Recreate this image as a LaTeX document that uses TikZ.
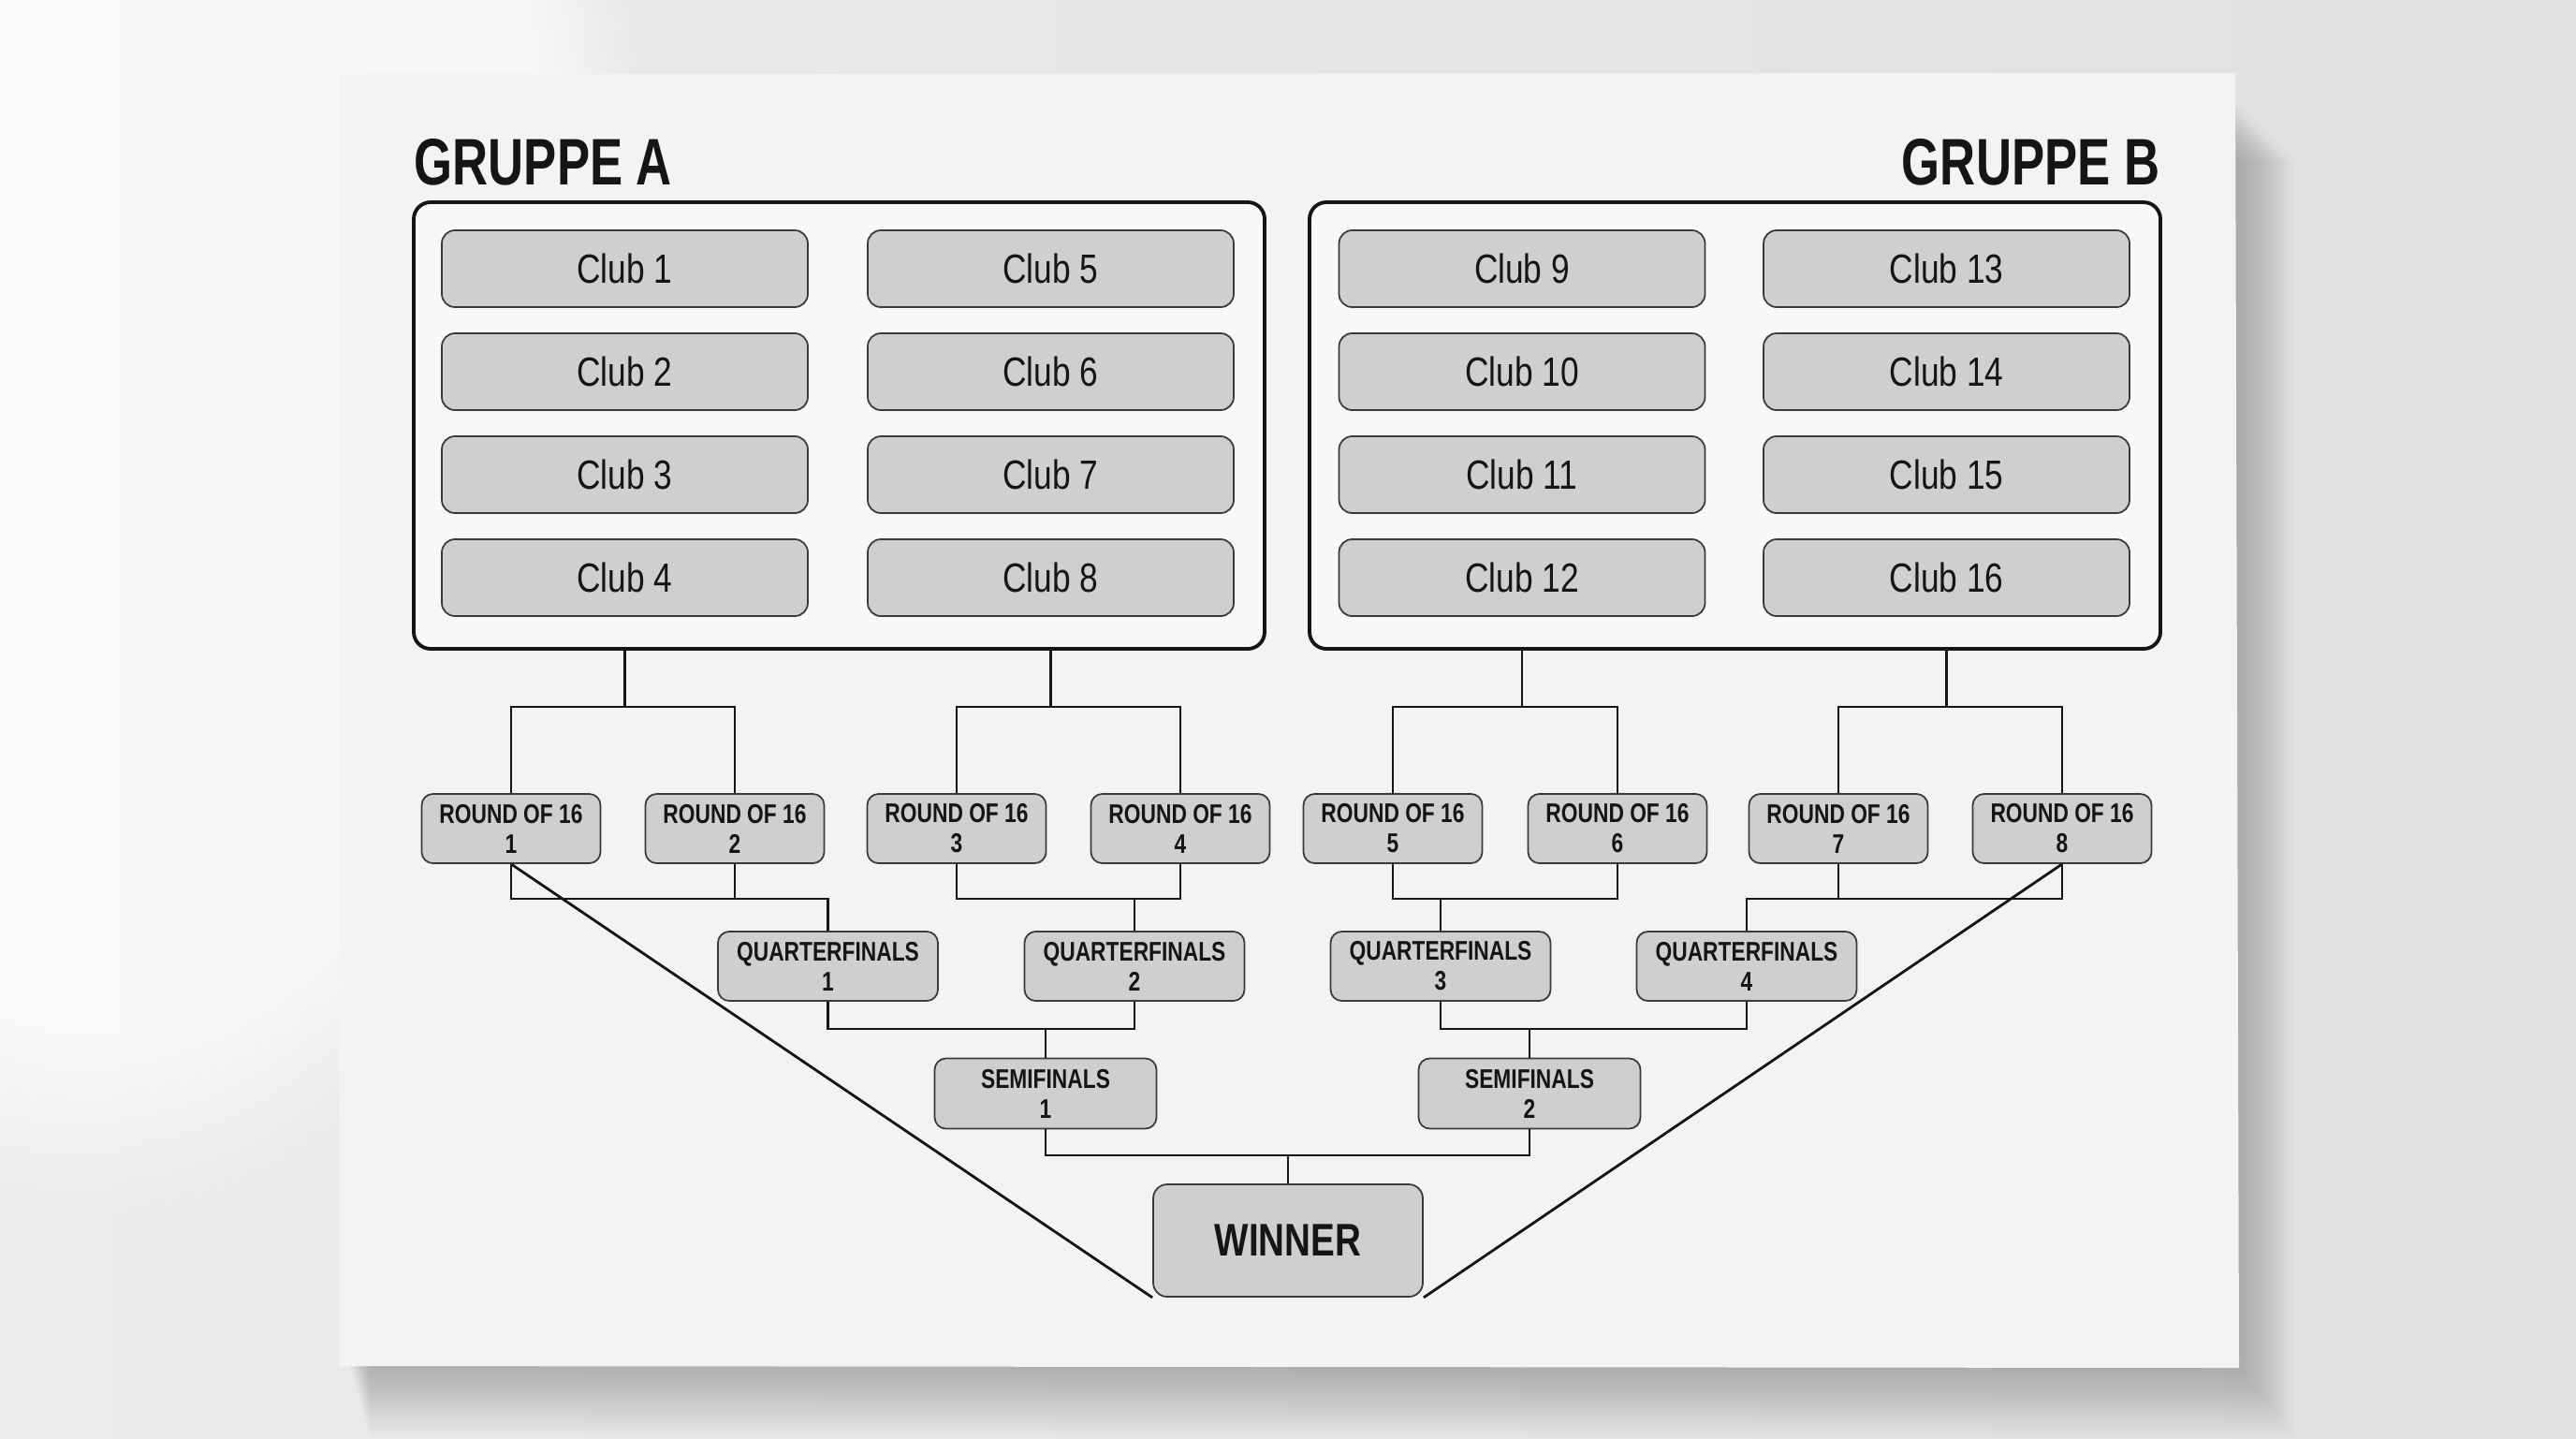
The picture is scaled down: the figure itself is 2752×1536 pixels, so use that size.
\documentclass[tikz,border=0pt]{standalone}
\usepackage{fontspec}
\usetikzlibrary{fadings}
\setmainfont{Liberation Sans}
\newfontfamily\clubfont[FakeStretch=0.81]{Liberation Sans}
\newfontfamily\labfont[FakeStretch=0.79]{Liberation Sans}
\newfontfamily\headfont[FakeStretch=0.75]{Liberation Sans}
\definecolor{bgL}{HTML}{EBEBEB}
\definecolor{bgR}{HTML}{E0E0E0}
\definecolor{paper}{HTML}{F3F3F3}
\definecolor{boxfill}{HTML}{CFCFCF}
\definecolor{boxline}{HTML}{3A3A3A}
\definecolor{ink}{HTML}{151515}
\tikzset{
  conn/.style={draw=ink, line width=0.8pt},
  grp/.style={draw=ink, line width=1.1pt, fill=paper!60!white, rounded corners=1.8mm, minimum width=90.9mm, minimum height=47.7mm, inner sep=0pt},
  club/.style={draw=boxline, line width=0.5pt, fill=boxfill, rounded corners=1.4mm, minimum width=39.1mm, minimum height=8.2mm, inner sep=0pt, text=ink, font={\clubfont\fontsize{12.4}{14}\selectfont}},
  rbox/.style={draw=boxline, line width=0.5pt, fill=boxfill, rounded corners=1.2mm, minimum height=7.4mm, inner sep=0pt, align=center, text=ink, font={\labfont\bfseries\fontsize{8.2}{9.1}\selectfont}},
  r16/.style={rbox, minimum width=19.1mm},
  qf/.style={rbox, minimum width=23.5mm},
  sf/.style={rbox, minimum width=23.7mm, minimum height=7.5mm},
  win/.style={draw=boxline, line width=0.5pt, fill=boxfill, rounded corners=1.5mm, minimum width=28.8mm, minimum height=12.0mm, inner sep=0pt, text=ink, font={\labfont\bfseries\fontsize{13.9}{16}\selectfont}},
  title/.style={inner sep=0pt, text=ink, font={\headfont\bfseries\fontsize{20}{24}\selectfont}}
}
\begin{document}
\begin{tikzpicture}[x=0.1mm, y=-0.1mm]
\useasboundingbox (0,0) rectangle (2752,1536);
% background
\shade[left color=bgL, right color=bgR] (0,0) rectangle (2752,1536);
\fill[white, opacity=0.7, path fading=circle with fuzzy edge 20 percent] (-500,-700) rectangle (700,1300);
% paper shadow (soft)
\foreach \i in {0,...,15} {
  \fill[black, opacity=0.016] (372+\i*1.5, 110+\i*4) rectangle (2390+\i*4, 1458+\i*5);
}
% paper
\fill[paper] (363,79) -- (2388,78) -- (2392,1461) -- (362,1459) -- cycle;

% titles
\node[title, anchor=base west] (tA) at (442,197) {GRUPPE A};
\node[title, anchor=base east] (tB) at (2308,197) {GRUPPE B};

% group boxes
\node[grp] (gA) at (896.5,454.5) {};
\node[grp] (gB) at (1853.5,454.5) {};

% clubs
\node[club] (c1)  at (667.5,287) {Club 1};
\node[club] (c2)  at (667.5,397) {Club 2};
\node[club] (c3)  at (667.5,507) {Club 3};
\node[club] (c4)  at (667.5,617) {Club 4};
\node[club] (c5)  at (1122.5,287) {Club 5};
\node[club] (c6)  at (1122.5,397) {Club 6};
\node[club] (c7)  at (1122.5,507) {Club 7};
\node[club] (c8)  at (1122.5,617) {Club 8};
\node[club] (c9)  at (1626,287) {Club 9};
\node[club] (c10) at (1626,397) {Club 10};
\node[club] (c11) at (1626,507) {Club 11};
\node[club] (c12) at (1626,617) {Club 12};
\node[club] (c13) at (2079.5,287) {Club 13};
\node[club] (c14) at (2079.5,397) {Club 14};
\node[club] (c15) at (2079.5,507) {Club 15};
\node[club] (c16) at (2079.5,617) {Club 16};

% round of 16
\node[r16] (r1) at (546,885)  {ROUND OF 16\\1};
\node[r16] (r2) at (785,885)  {ROUND OF 16\\2};
\node[r16] (r3) at (1022,885) {ROUND OF 16\\3};
\node[r16] (r4) at (1261,885) {ROUND OF 16\\4};
\node[r16] (r5) at (1488,885) {ROUND OF 16\\5};
\node[r16] (r6) at (1728,885) {ROUND OF 16\\6};
\node[r16] (r7) at (1964,885) {ROUND OF 16\\7};
\node[r16] (r8) at (2203,885) {ROUND OF 16\\8};

% quarterfinals
\node[qf] (q1) at (884.5,1032) {QUARTERFINALS\\1};
\node[qf] (q2) at (1212,1032)  {QUARTERFINALS\\2};
\node[qf] (q3) at (1539,1032)  {QUARTERFINALS\\3};
\node[qf] (q4) at (1866,1032)  {QUARTERFINALS\\4};

% semifinals
\node[sf] (s1) at (1117,1168) {SEMIFINALS\\1};
\node[sf] (s2) at (1634,1168) {SEMIFINALS\\2};

% winner
\node[win] (w) at (1376,1325) {WINNER};

% junction coordinates
\coordinate (jA1) at (667.5,755);
\coordinate (jA2) at (1122.5,755);
\coordinate (jB1) at (1626,755);
\coordinate (jB2) at (2079.5,755);
\coordinate (k1) at (884.5,960);
\coordinate (k2) at (1212,960);
\coordinate (k3) at (1539,960);
\coordinate (k4) at (1866,960);
\coordinate (m1) at (1117,1099);
\coordinate (m2) at (1634,1099);
\coordinate (n)  at (1376,1234);

% group -> round of 16
\draw[conn] (gA.south -| jA1) -- (jA1);
\draw[conn] (r1.north) |- (jA1) -| (r2.north);
\draw[conn] (gA.south -| jA2) -- (jA2);
\draw[conn] (r3.north) |- (jA2) -| (r4.north);
\draw[conn] (gB.south -| jB1) -- (jB1);
\draw[conn] (r5.north) |- (jB1) -| (r6.north);
\draw[conn] (gB.south -| jB2) -- (jB2);
\draw[conn] (r7.north) |- (jB2) -| (r8.north);

% round of 16 -> quarterfinals
\draw[conn] (r1.south) |- (k1) -- (q1.north);
\draw[conn] (r2.south) -- (r2.south |- k1);
\draw[conn] (r3.south) |- (k2) -| (r4.south);
\draw[conn] (k2) -- (q2.north);
\draw[conn] (r5.south) |- (k3) -| (r6.south);
\draw[conn] (k3) -- (q3.north);
\draw[conn] (r8.south) |- (k4) -- (q4.north);
\draw[conn] (r7.south) -- (r7.south |- k4);

% quarterfinals -> semifinals
\draw[conn] (q1.south) |- (m1) -| (q2.south);
\draw[conn] (m1) -- (s1.north);
\draw[conn] (q3.south) |- (m2) -| (q4.south);
\draw[conn] (m2) -- (s2.north);

% semifinals -> winner
\draw[conn] (s1.south) |- (n) -| (s2.south);
\draw[conn] (n) -- (w.north);

% diagonals
\draw[conn] (r1.south) -- (w.south west);
\draw[conn] (r8.south) -- (w.south east);
\end{tikzpicture}
\end{document}
